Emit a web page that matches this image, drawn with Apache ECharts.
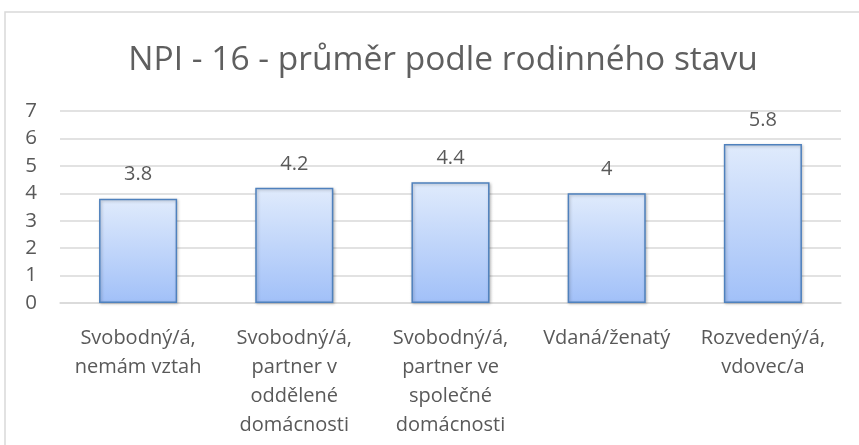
<!DOCTYPE html>
<html>
<head>
<meta charset="utf-8">
<script src="https://cdn.jsdelivr.net/npm/echarts@6/dist/echarts.min.js"></script>
<style>
  html, body { margin: 0; padding: 0; background: #fff; }
  #chart { width: 859px; height: 445px; }
</style>
</head>
<body>
<div id="chart"></div>
<script>
const titleText = 'NPI - 16 - průměr podle rodinného stavu';
const categories = [
  'Svobodný/á,\nnemám vztah',
  'Svobodný/á,\npartner v\noddělené\ndomácnosti',
  'Svobodný/á,\npartner ve\nspolečné\ndomácnosti',
  'Vdaná/ženatý',
  'Rozvedený/á,\nvdovec/a'
];
const values = [3.8, 4.2, 4.4, 4, 5.8];
const yTicks = [0, 1, 2, 3, 4, 5, 6, 7];

const font = '"Open Sans", "DejaVu Sans", sans-serif';
const textColor = '#595959';

const chart = echarts.init(document.getElementById('chart'));

chart.setOption({
  animation: false,
  backgroundColor: '#fff',
  // outer chart frame, runs off the right and bottom edge like the original
  graphic: [{
    type: 'rect',
    shape: { x: 5, y: 12, width: 900, height: 500 },
    style: { fill: 'none', stroke: '#d9d9d9', lineWidth: 1.5 },
    silent: true
  }],
  title: {
    text: titleText,
    left: 438,
    textAlign: 'center',
    top: 38,
    textStyle: {
      fontFamily: font,
      fontSize: 33.5,
      fontWeight: 'normal',
      color: '#5f5f5f'
    }
  },
  grid: {
    left: 60,
    right: 18,
    top: 111,
    bottom: 142
  },
  xAxis: {
    type: 'category',
    data: categories,
    axisLine: { lineStyle: { color: '#d9d9d9', width: 1.5 } },
    axisTick: { show: false },
    axisLabel: {
      interval: 0,
      margin: 21,
      fontFamily: font,
      fontSize: 20,
      lineHeight: 29,
      color: textColor,
      align: 'center'
    }
  },
  yAxis: {
    type: 'value',
    min: yTicks[0],
    max: yTicks[yTicks.length - 1],
    interval: 1,
    axisLine: { show: false },
    axisTick: { show: false },
    splitLine: { lineStyle: { color: '#d9d9d9', width: 1.5 } },
    axisLabel: {
      margin: 23,
      fontFamily: font,
      fontSize: 20.5,
      color: textColor
    }
  },
  series: [{
    type: 'bar',
    data: values,
    barWidth: '50%',
    itemStyle: {
      color: new echarts.graphic.LinearGradient(0, 0, 0, 1, [
        { offset: 0, color: '#e0ebfc' },
        { offset: 1, color: '#a1c0f8' }
      ]),
      borderColor: '#4f81bd',
      borderWidth: 1.5,
      shadowBlur: 3,
      shadowOffsetX: 1,
      shadowOffsetY: 1,
      shadowColor: 'rgba(0,0,0,0.25)'
    },
    label: {
      show: true,
      position: 'top',
      distance: 14,
      fontFamily: font,
      fontSize: 20,
      color: textColor
    }
  }]
});
</script>
</body>
</html>
